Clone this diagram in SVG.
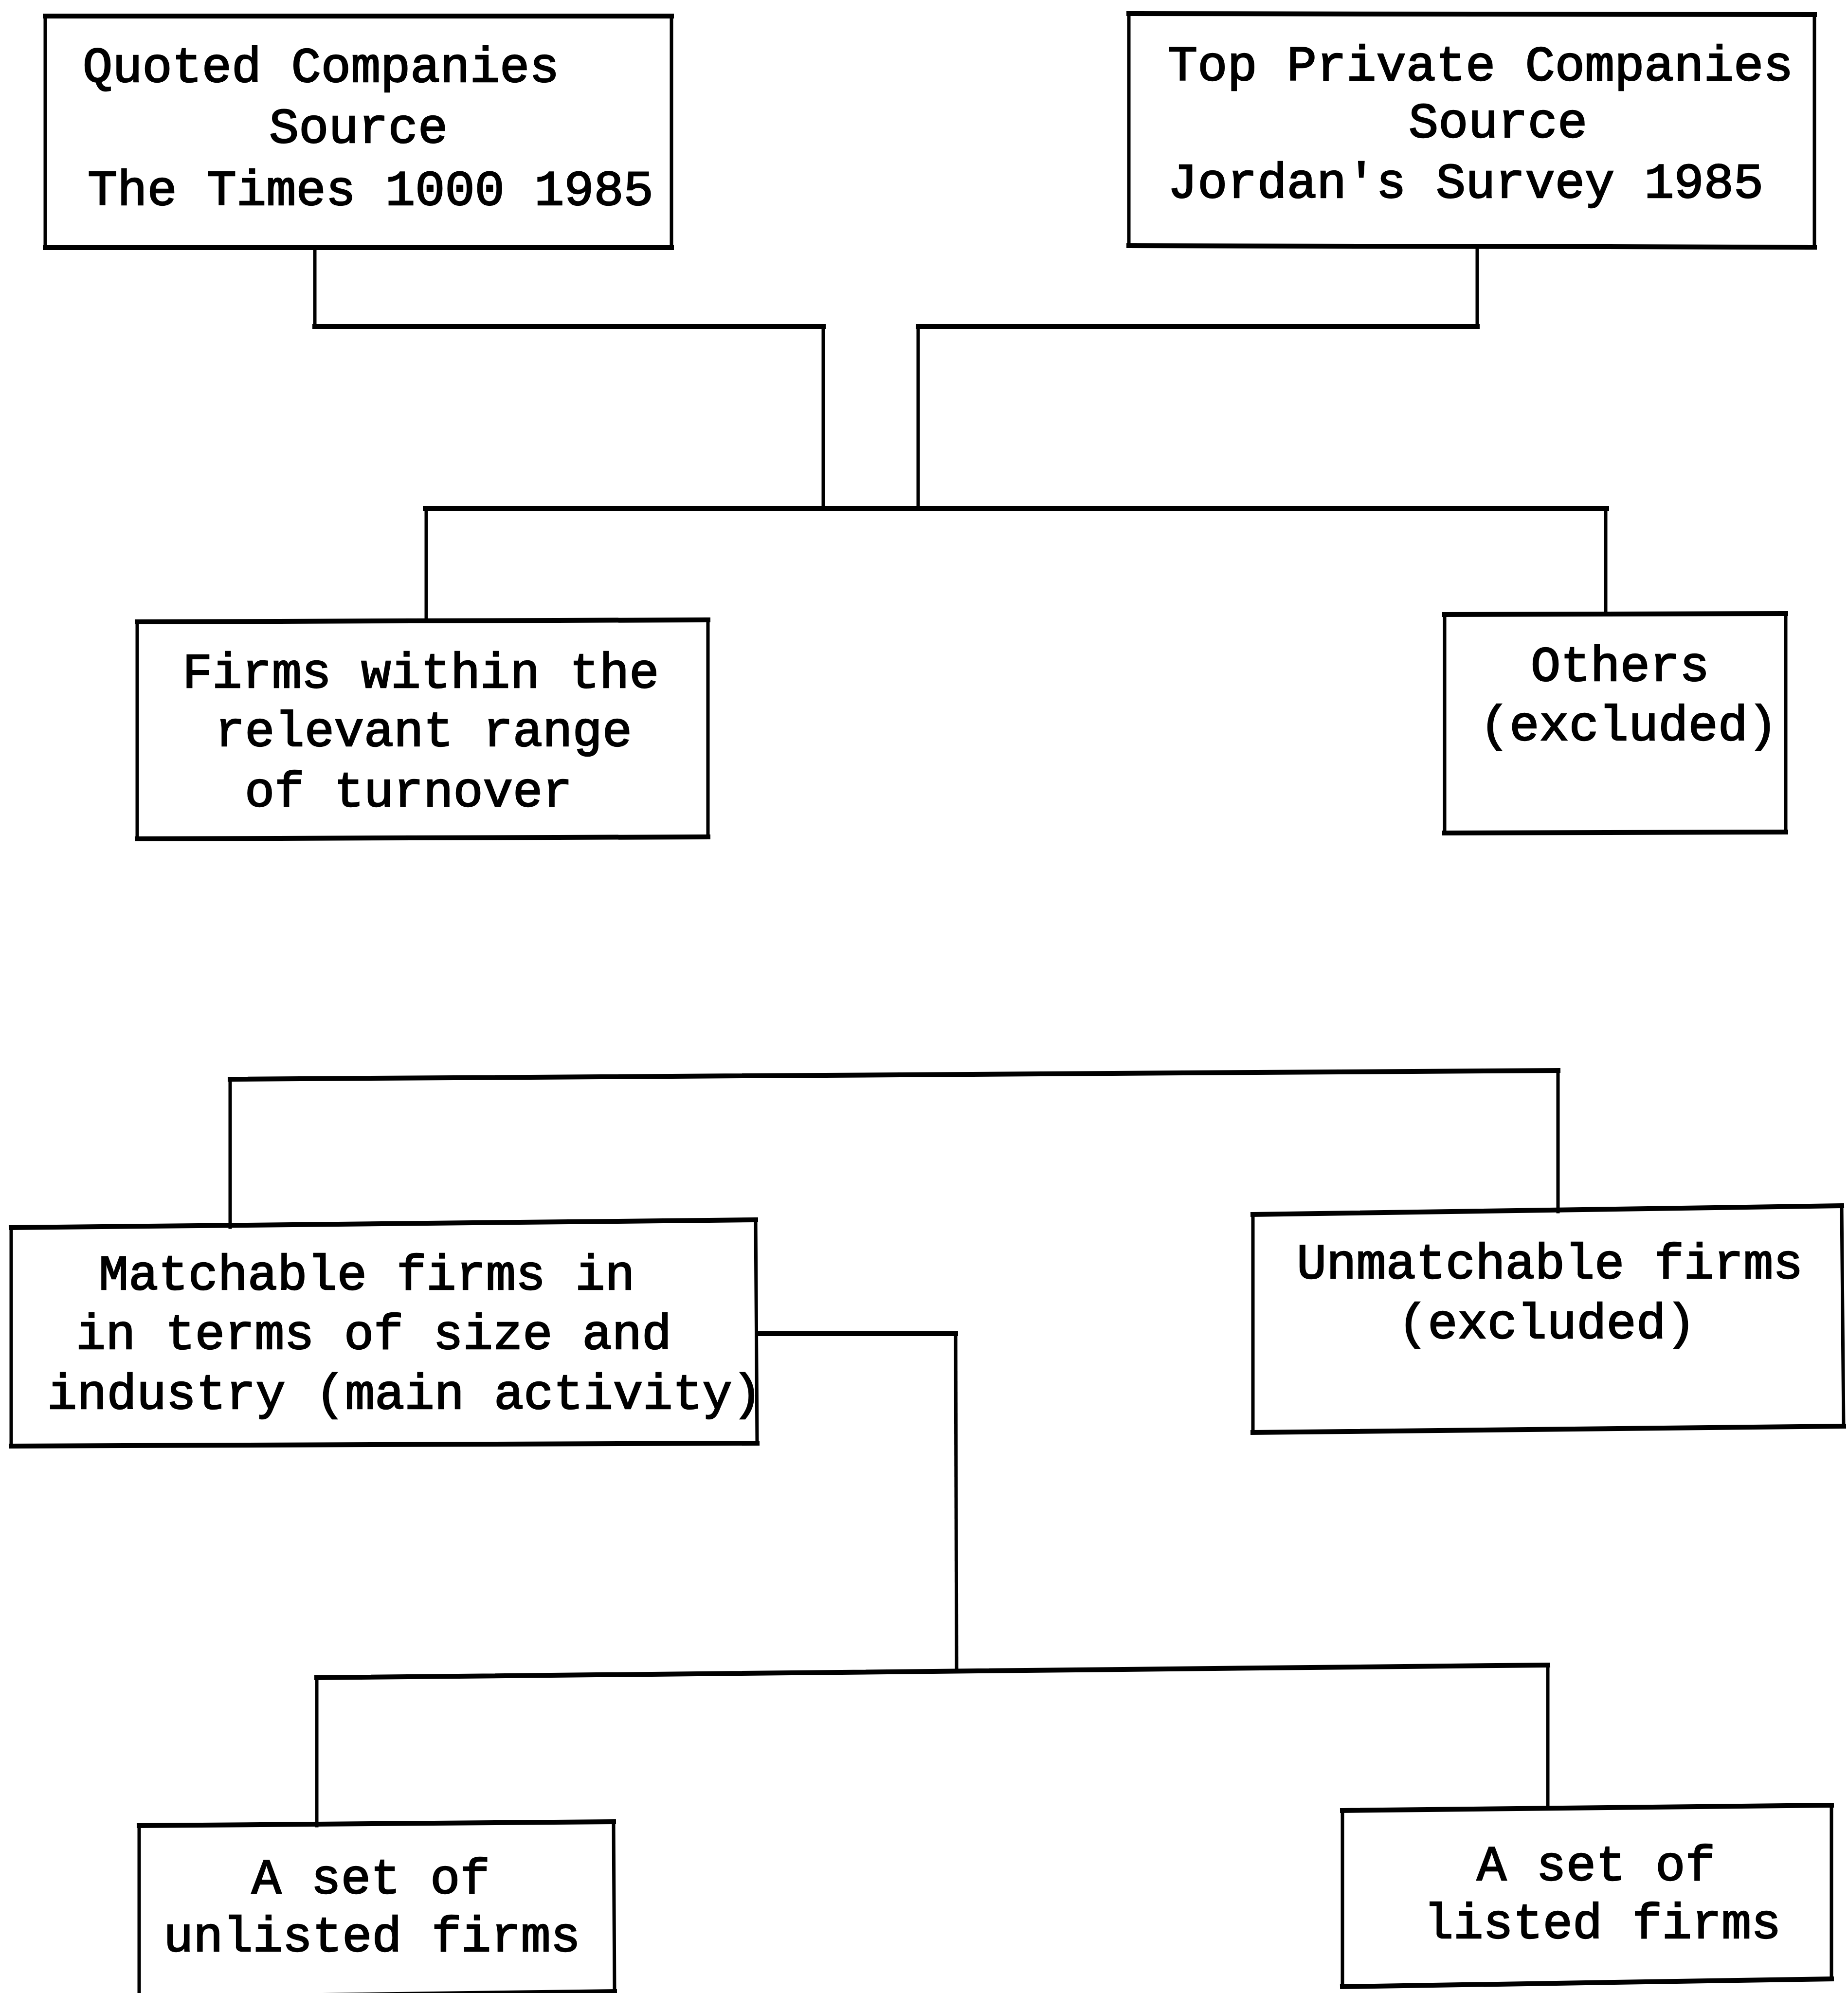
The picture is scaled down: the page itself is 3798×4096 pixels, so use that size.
<svg xmlns="http://www.w3.org/2000/svg" width="3798" height="4096" viewBox="0 0 3798 4096">
<style>
.h{stroke:#000;stroke-width:10;fill:none;stroke-linecap:square}
.v{stroke:#000;stroke-width:7;fill:none;stroke-linecap:square}
text{font-family:"Liberation Mono","DejaVu Sans Mono",monospace;font-size:102px;fill:#000;stroke:#000;stroke-width:2.5}
</style>
<rect width="3798" height="4096" fill="#fff"/>
<g id="connectors">
<line class="v" x1="647" y1="509" x2="647" y2="671"/>
<line class="h" x1="647" y1="671" x2="1692" y2="671"/>
<line class="v" x1="1692" y1="671" x2="1692" y2="1045"/>
<line class="v" x1="3036" y1="508" x2="3036" y2="671"/>
<line class="h" x1="3036" y1="671" x2="1887" y2="671"/>
<line class="v" x1="1887" y1="671" x2="1887" y2="1045"/>
<line class="h" x1="874" y1="1045" x2="3302" y2="1045"/>
<line class="v" x1="876" y1="1045" x2="876" y2="1276"/>
<line class="v" x1="3300" y1="1045" x2="3300" y2="1262"/>
<line class="h" x1="473" y1="2218" x2="3202" y2="2200"/>
<line class="v" x1="473" y1="2218" x2="473" y2="2522"/>
<line class="v" x1="3202" y1="2200" x2="3202" y2="2490"/>
<line class="h" x1="1558" y1="2741" x2="1964" y2="2741"/>
<line class="v" x1="1964" y1="2741" x2="1966" y2="3435"/>
<line class="h" x1="651" y1="3448" x2="3181" y2="3422"/>
<line class="v" x1="651" y1="3448" x2="651" y2="3752"/>
<line class="v" x1="3181" y1="3422" x2="3181" y2="3716"/>
</g>
<g id="quoted">
<path class="h" d="M93 33 L1380 33 M93 509 L1380 509"/>
<path class="v" d="M93 33 L93 509 M1380 33 L1380 509"/>
<text x="170" y="168">Quoted Companies</text>
<text x="553" y="293">Source</text>
<text x="180" y="421">The Times 1000 1985</text>
</g>
<g id="private">
<path class="h" d="M2320 28 L3729 30 M2320 505 L3729 508"/>
<path class="v" d="M2320 28 L2320 505 M3729 30 L3729 508"/>
<text x="2400" y="165">Top Private Companies</text>
<text x="2895" y="282">Source</text>
<text x="2400" y="406">Jordan's Survey 1985</text>
</g>
<g id="within">
<path class="h" d="M282 1278 L1455 1274 M282 1724 L1455 1720"/>
<path class="v" d="M282 1278 L282 1724 M1455 1274 L1455 1720"/>
<text x="375" y="1413">Firms within the</text>
<text x="442" y="1533">relevant range</text>
<text x="503" y="1657">of turnover</text>
</g>
<g id="others">
<path class="h" d="M2969 1263 L3670 1261 M2969 1712 L3670 1710"/>
<path class="v" d="M2969 1263 L2969 1712 M3670 1261 L3670 1710"/>
<text x="3146" y="1399">Others</text>
<text x="3041" y="1521">(excluded)</text>
</g>
<g id="matchable">
<path class="h" d="M23 2523 L1553 2507 M23 2972 L1556 2966"/>
<path class="v" d="M23 2523 L23 2972 M1553 2507 L1556 2966"/>
<text x="203" y="2650">Matchable firms in</text>
<text x="156" y="2772">in terms of size and</text>
<text x="97" y="2895">industry (main activity)</text>
</g>
<g id="unmatchable">
<path class="h" d="M2575 2496 L3785 2478 M2575 2944 L3789 2931"/>
<path class="v" d="M2575 2496 L2575 2944 M3785 2478 L3789 2931"/>
<text x="2665" y="2627">Unmatchable firms</text>
<text x="2873" y="2750">(excluded)</text>
</g>
<g id="unlisted">
<path class="h" d="M286 3752 L1261 3744 M286 4106 L1263 4093"/>
<path class="v" d="M286 3752 L286 4106 M1261 3744 L1263 4093"/>
<text x="517" y="3891">A set of</text>
<text x="336" y="4010">unlisted firms</text>
</g>
<g id="listed">
<path class="h" d="M2759 3721 L3764 3710 M2759 4083 L3764 4067"/>
<path class="v" d="M2759 3721 L2759 4083 M3764 3710 L3764 4067"/>
<text x="3035" y="3864">A set of</text>
<text x="2926" y="3983">listed firms</text>
</g>
</svg>
